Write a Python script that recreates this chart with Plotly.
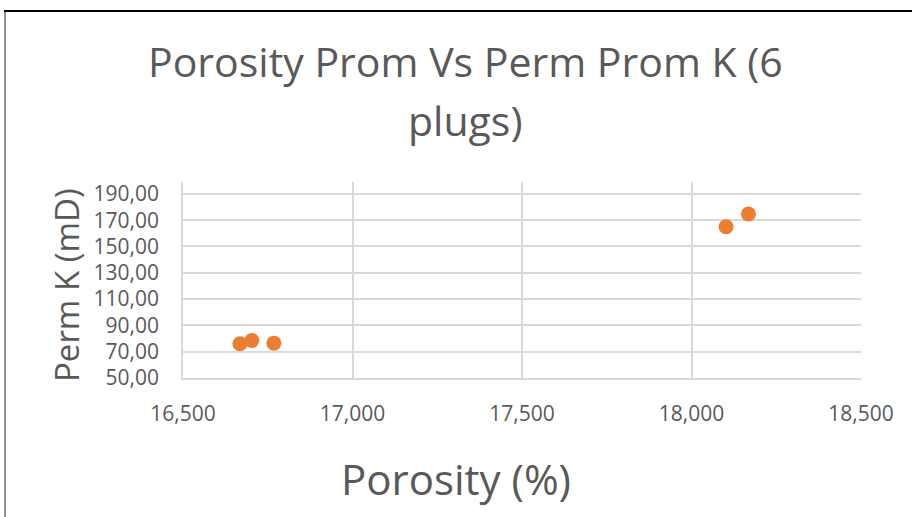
import plotly.graph_objects as go

# Data
porosity = [16.668, 16.703, 16.768, 18.102, 18.168]
perm_k = [76.0, 78.5, 76.5, 165.0, 174.7]
y_ticks = [50, 70, 90, 110, 130, 150, 170, 190]
x_ticks = [16.5, 17.0, 17.5, 18.0, 18.5]

W, H = 912, 517
L, R, T, B = 183, 51, 182, 139
PW, PH = W - L - R, H - T - B

def px(xp):
    return (xp - L) / PW

def py(yp):
    return (H - B - yp) / PH

GRAY = "#595959"
GRID = "#d9d9d9"
FONT = "Open Sans"

fig = go.Figure(go.Scatter(
    x=porosity, y=perm_k, mode="markers",
    marker=dict(color="#ED7D31", size=15, line=dict(width=0)),
    showlegend=False,
))

fig.update_layout(
    width=W, height=H,
    margin=dict(l=L, r=R, t=T, b=B),
    paper_bgcolor="white", plot_bgcolor="white",
    separators=",.",
    font=dict(family=FONT, color=GRAY),
    xaxis=dict(
        range=[16.5, 18.5], tickvals=x_ticks, tickformat=".3f",
        showgrid=True, gridcolor=GRID, gridwidth=1.5,
        showline=True, linecolor=GRID, linewidth=1.5,
        zeroline=False, ticks="", ticklabelstandoff=16,
        tickfont=dict(size=21, color=GRAY, family=FONT),
    ),
    yaxis=dict(
        range=[50, 199], tickvals=y_ticks, tickformat=".2f",
        showgrid=True, gridcolor=GRID, gridwidth=1.5,
        showline=True, linecolor=GRID, linewidth=1.5,
        zeroline=False, ticks="", ticklabelstandoff=18,
        tickfont=dict(size=21, color=GRAY, family=FONT),
    ),
    annotations=[
        dict(text="Porosity Prom Vs Perm Prom K (6", x=px(465), y=py(61),
             xref="paper", yref="paper", showarrow=False,
             xanchor="center", yanchor="middle",
             font=dict(size=41, color=GRAY, family=FONT)),
        dict(text="plugs)", x=px(465), y=py(120),
             xref="paper", yref="paper", showarrow=False,
             xanchor="center", yanchor="middle",
             font=dict(size=41, color=GRAY, family=FONT)),
        dict(text="Porosity (%)", x=px(456), y=py(478),
             xref="paper", yref="paper", showarrow=False,
             xanchor="center", yanchor="middle",
             font=dict(size=42, color=GRAY, family=FONT)),
        dict(text="Perm K (mD)", x=px(66), y=py(285), textangle=-90,
             xref="paper", yref="paper", showarrow=False,
             xanchor="center", yanchor="middle",
             font=dict(size=33, color=GRAY, family=FONT)),
    ],
    shapes=[
        dict(type="line", xref="paper", yref="paper",
             x0=px(4), x1=px(W + 2), y0=py(11), y1=py(11),
             line=dict(color="black", width=2)),
        dict(type="line", xref="paper", yref="paper",
             x0=px(5), x1=px(5), y0=py(11), y1=py(H + 2),
             line=dict(color="#222222", width=1)),
    ],
)

fig.write_html(
    "out.html",
    config={"displayModeBar": False},
    post_script="document.body.style.margin='0';document.body.style.overflow='hidden';",
)
